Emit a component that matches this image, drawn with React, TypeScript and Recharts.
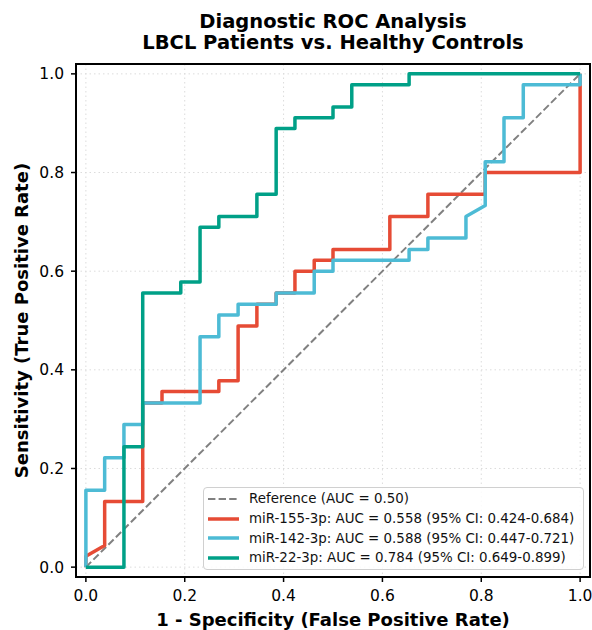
import { ComposedChart, Line, XAxis, YAxis, CartesianGrid, ReferenceArea, Label } from 'recharts'

const FONT = '"DejaVu Sans", sans-serif'

// ROC points (false positive rate / true positive rate) per marker
const refFpr = [0, 1]
const refTpr = [0, 1]

const mir155Fpr = [0, 0, 0.038, 0.038, 0.115, 0.115, 0.154, 0.154, 0.269, 0.269, 0.308, 0.308, 0.346, 0.346, 0.385, 0.385, 0.423, 0.423, 0.462, 0.462, 0.5, 0.5, 0.615, 0.615, 0.692, 0.692, 0.808, 0.808, 1, 1]
const mir155Tpr = [0, 0.022, 0.044, 0.133, 0.133, 0.333, 0.333, 0.356, 0.356, 0.378, 0.378, 0.489, 0.489, 0.533, 0.533, 0.556, 0.556, 0.6, 0.6, 0.622, 0.622, 0.644, 0.644, 0.711, 0.711, 0.756, 0.756, 0.8, 0.8, 1]

const mir142Fpr = [0, 0, 0.038, 0.038, 0.077, 0.077, 0.115, 0.115, 0.231, 0.231, 0.269, 0.269, 0.308, 0.308, 0.385, 0.385, 0.462, 0.462, 0.5, 0.5, 0.654, 0.654, 0.692, 0.692, 0.769, 0.769, 0.808, 0.808, 0.846, 0.846, 0.885, 0.885, 1, 1]
const mir142Tpr = [0, 0.156, 0.156, 0.222, 0.222, 0.289, 0.289, 0.333, 0.333, 0.467, 0.467, 0.511, 0.511, 0.533, 0.533, 0.556, 0.556, 0.6, 0.6, 0.622, 0.622, 0.644, 0.644, 0.667, 0.667, 0.711, 0.733, 0.822, 0.822, 0.911, 0.911, 0.978, 0.978, 1]

const mir22Fpr = [0, 0.077, 0.077, 0.115, 0.115, 0.192, 0.192, 0.231, 0.231, 0.269, 0.269, 0.346, 0.346, 0.385, 0.385, 0.423, 0.423, 0.5, 0.5, 0.538, 0.538, 0.654, 0.654, 1]
const mir22Tpr = [0, 0, 0.244, 0.244, 0.556, 0.556, 0.578, 0.578, 0.689, 0.689, 0.711, 0.711, 0.756, 0.756, 0.889, 0.889, 0.911, 0.911, 0.933, 0.933, 0.978, 0.978, 1, 1]

const seriesNames = [
  'Reference (AUC = 0.50)',
  'miR-155-3p: AUC = 0.558 (95% CI: 0.424-0.684)',
  'miR-142-3p: AUC = 0.588 (95% CI: 0.447-0.721)',
  'miR-22-3p: AUC = 0.784 (95% CI: 0.649-0.899)',
]

const axisTicks = [0, 0.2, 0.4, 0.6, 0.8, 1.0]

const toPoints = (fpr: number[], tpr: number[]) => fpr.map((x, i) => ({ x, y: tpr[i] }))

const curves = [
  { name: seriesNames[0], points: toPoints(refFpr, refTpr), color: '#808080', width: 2, dash: '7.4 3.2' },
  { name: seriesNames[1], points: toPoints(mir155Fpr, mir155Tpr), color: '#E64B35', width: 3.5 },
  { name: seriesNames[2], points: toPoints(mir142Fpr, mir142Tpr), color: '#4DBBD5', width: 3.5 },
  { name: seriesNames[3], points: toPoints(mir22Fpr, mir22Tpr), color: '#00A087', width: 3.5 },
]

const tickStyle = { fontSize: 15.5, fill: '#000', fontFamily: FONT }

function RocLegend() {
  return (
    <div
      style={{
        position: 'absolute',
        left: 203,
        top: 487,
        width: 381,
        height: 83,
        boxSizing: 'border-box',
        border: '1px solid #d0d0d0',
        borderRadius: 4,
        background: 'rgba(255,255,255,0.85)',
        padding: '1px 0 0 4px',
        fontFamily: FONT,
        fontSize: 13.4,
        color: '#111',
      }}
    >
      {curves.map((c) => (
        <div key={c.name} style={{ display: 'flex', alignItems: 'center', height: 19.7, whiteSpace: 'nowrap' }}>
          <svg width={31} height={8} style={{ marginRight: 10 }}>
            <line x1={0} y1={4} x2={31} y2={4} stroke={c.color} strokeWidth={c.width} strokeDasharray={c.dash} />
          </svg>
          <span>{c.name}</span>
        </div>
      ))}
    </div>
  )
}

export default function App() {
  return (
    <div style={{ position: 'relative', width: 592, height: 630, background: '#fff' }}>
      <style>{'body{margin:0}'}</style>
      <div
        style={{
          position: 'absolute',
          left: 76,
          top: 11,
          width: 514,
          textAlign: 'center',
          fontFamily: FONT,
          fontWeight: 'bold',
          fontSize: 19.5,
          lineHeight: '21px',
          color: '#000',
        }}
      >
        Diagnostic ROC Analysis
        <br />
        LBCL Patients vs. Healthy Controls
      </div>
      <ComposedChart width={592} height={630} margin={{ top: 64, right: 2, bottom: 0, left: 0 }}>
        <CartesianGrid stroke="#dcdcdc" strokeDasharray="1.5 3" />
        <XAxis
          type="number"
          dataKey="x"
          domain={[-0.02, 1.02]}
          ticks={axisTicks}
          tickFormatter={(v: number) => v.toFixed(1)}
          allowDataOverflow
          height={53}
          axisLine={false}
          tickLine={{ stroke: '#000', strokeWidth: 1.5 }}
          tickSize={5}
          tickMargin={8}
          tick={tickStyle}
        >
          <Label
            value="1 - Specificity (False Positive Rate)"
            position="insideBottom"
            offset={4}
            style={{ fontFamily: FONT, fontWeight: 'bold', fontSize: 18, fill: '#000' }}
          />
        </XAxis>
        <YAxis
          type="number"
          domain={[-0.02, 1.02]}
          ticks={axisTicks}
          tickFormatter={(v: number) => v.toFixed(1)}
          allowDataOverflow
          width={76}
          axisLine={false}
          tickLine={{ stroke: '#000', strokeWidth: 1.5 }}
          tickSize={5}
          tickMargin={7}
          tick={tickStyle}
        >
          <Label
            value="Sensitivity (True Positive Rate)"
            angle={-90}
            position="insideLeft"
            offset={22}
            style={{ fontFamily: FONT, fontWeight: 'bold', fontSize: 18, fill: '#000', textAnchor: 'middle' }}
          />
        </YAxis>
        {curves.map((c) => (
          <Line
            key={c.name}
            data={c.points}
            dataKey="y"
            type="linear"
            stroke={c.color}
            strokeWidth={c.width}
            strokeDasharray={c.dash}
            strokeLinejoin="round"
            dot={false}
            activeDot={false}
            isAnimationActive={false}
          />
        ))}
        <ReferenceArea x1={-0.02} x2={1.02} y1={-0.02} y2={1.02} fill="none" stroke="#000" strokeWidth={2} ifOverflow="visible" />
      </ComposedChart>
      <RocLegend />
    </div>
  )
}
